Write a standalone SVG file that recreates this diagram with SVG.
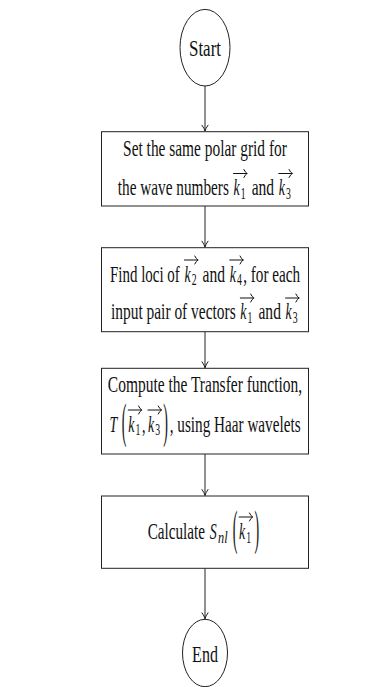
<svg xmlns="http://www.w3.org/2000/svg" width="385" height="687" viewBox="0 0 385 687">
<style>
.t{font-family:"Liberation Serif","Times New Roman",serif;font-size:24px;fill:#111}
.i{font-style:italic}
.s{font-size:16.8px}
.b{fill:#fff;stroke:#222;stroke-width:1}
.v{fill:none;stroke:#111;stroke-width:1;stroke-linecap:round;vector-effect:non-scaling-stroke}
.c{fill:none;stroke:#222;stroke-width:1}
</style>
<defs>
<marker id="ah" viewBox="0 0 10 10" refX="10" refY="5" markerWidth="10" markerHeight="10" markerUnits="userSpaceOnUse" orient="auto">
<path d="M4 2 Q7.5 4.5 10 5 Q7.5 5.5 4 8" fill="none" stroke="#222" stroke-width="1" stroke-linecap="round"/>
</marker>
</defs>
<rect width="385" height="687" fill="#fff"/>
<g id="connectors">
<path class="c" d="M205 86 V131.2" marker-end="url(#ah)"/>
<path class="c" d="M205 206 V247.2" marker-end="url(#ah)"/>
<path class="c" d="M205 331.7 V367.8" marker-end="url(#ah)"/>
<path class="c" d="M205 454 V495.5" marker-end="url(#ah)"/>
<path class="c" d="M205 568.3 V618.8" marker-end="url(#ah)"/>
</g>
<g id="start">
<ellipse class="b" cx="205" cy="47.7" rx="25" ry="38.3"/>
<g transform="translate(205 0) scale(0.6 1) translate(-205 0)">
<text class="t" x="205" y="56" text-anchor="middle" textLength="53.4" lengthAdjust="spacingAndGlyphs">Start</text>
</g>
</g>
<g id="step1">
<rect class="b" x="101.5" y="131.7" width="207" height="74.3"/>
<g transform="translate(205 0) scale(0.58 1) translate(-205 0)">
<text class="t" x="63.8" y="156.5" textLength="282.3" lengthAdjust="spacingAndGlyphs">Set the same polar grid for</text>
<text class="t" x="54.7" y="195.5" textLength="191.5" lengthAdjust="spacingAndGlyphs">the wave numbers</text>
<text class="t i" x="254.2" y="195.5">k</text><text class="t s" x="266.7" y="199.1">1</text>
<text class="t" x="285.5" y="195.5" textLength="38.7" lengthAdjust="spacingAndGlyphs">and</text>
<text class="t i" x="332.2" y="195.5">k</text><text class="t s" x="344.7" y="199.1">3</text>
<path class="v" d="M254.2 173.5 H277.5 M272 169.5 Q274.5 172.5 277.5 173.5 Q274.5 174.5 272 177.5"/>
<path class="v" d="M332.2 173.5 H355.4 M349.9 169.5 Q352.4 172.5 355.4 173.5 Q352.4 174.5 349.9 177.5"/>
</g>
</g>
<g id="step2">
<rect class="b" x="101.5" y="247.7" width="207" height="84"/>
<g transform="translate(205 0) scale(0.58 1) translate(-205 0)">
<text class="t" x="41.2" y="281.7" textLength="120.4" lengthAdjust="spacingAndGlyphs">Find loci of</text>
<text class="t i" x="169.6" y="281.7">k</text><text class="t s" x="182.1" y="285.3">2</text>
<text class="t" x="200.9" y="281.7" textLength="38.7" lengthAdjust="spacingAndGlyphs">and</text>
<text class="t i" x="247.6" y="281.7">k</text><text class="t s" x="260.1" y="285.3">4</text>
<text class="t" x="270.9" y="281.7" textLength="98.1" lengthAdjust="spacingAndGlyphs">, for each</text>
<path class="v" d="M169.6 260 H192.9 M187.4 256 Q189.9 259 192.9 260 Q189.9 261 187.4 264"/>
<path class="v" d="M247.6 260 H270.9 M265.4 256 Q267.9 259 270.9 260 Q267.9 261 265.4 264"/>
<text class="t" x="42.9" y="319.5" textLength="215" lengthAdjust="spacingAndGlyphs">input pair of vectors</text>
<text class="t i" x="265.9" y="319.5">k</text><text class="t s" x="278.4" y="323.1">1</text>
<text class="t" x="297.2" y="319.5" textLength="38.7" lengthAdjust="spacingAndGlyphs">and</text>
<text class="t i" x="343.9" y="319.5">k</text><text class="t s" x="356.4" y="323.1">3</text>
<path class="v" d="M265.9 298 H289.2 M283.7 294 Q286.2 297 289.2 298 Q286.2 299 283.7 302"/>
<path class="v" d="M343.9 298 H367.2 M361.7 294 Q364.2 297 367.2 298 Q364.2 299 361.7 302"/>
</g>
</g>
<g id="step3">
<rect class="b" x="101.5" y="368.3" width="207" height="85.7"/>
<g transform="translate(205 0) scale(0.58 1) translate(-205 0)">
<text class="t" x="37.5" y="392.5" textLength="335" lengthAdjust="spacingAndGlyphs">Compute the Transfer function,</text>
<text class="t i" x="40.3" y="431.7">T</text>
<text class="t" transform="translate(61.4 436.95) scale(1 2.05)">(</text>
<text class="t i" x="72.6" y="431.7">k</text><text class="t s" x="85.1" y="435.3">1</text>
<text class="t" x="96.6" y="431.7">,</text>
<text class="t i" x="106.6" y="431.7">k</text><text class="t s" x="119.1" y="435.3">3</text>
<text class="t" transform="translate(133.1 436.95) scale(1 2.05)">)</text>
<text class="t" x="144.2" y="431.7" textLength="225.6" lengthAdjust="spacingAndGlyphs">, using Haar wavelets</text>
<path class="v" d="M72.6 410 H95.9 M90.4 406 Q92.9 409 95.9 410 Q92.9 411 90.4 414"/>
<path class="v" d="M106.6 410 H129.9 M124.4 406 Q126.9 409 129.9 410 Q126.9 411 124.4 414"/>
</g>
</g>
<g id="step4">
<rect class="b" x="101.5" y="496" width="207" height="72.3"/>
<g transform="translate(205 0) scale(0.58 1) translate(-205 0)">
<text class="t" x="106.3" y="539" textLength="98.7" lengthAdjust="spacingAndGlyphs">Calculate</text>
<text class="t i" x="213" y="539">S</text>
<text class="t i s" x="227.5" y="542.6" textLength="16.5" lengthAdjust="spacingAndGlyphs">nl</text>
<text class="t" transform="translate(252.7 544.25) scale(1 2.05)">(</text>
<text class="t i" x="263.8" y="539">k</text><text class="t s" x="276.3" y="542.6">1</text>
<text class="t" transform="translate(290.3 544.25) scale(1 2.05)">)</text>
<path class="v" d="M263.8 517 H287.1 M281.6 513 Q284.1 516 287.1 517 Q284.1 518 281.6 521"/>
</g>
</g>
<g id="end">
<ellipse class="b" cx="205" cy="653" rx="22.5" ry="33.7"/>
<g transform="translate(205 0) scale(0.6 1) translate(-205 0)">
<text class="t" x="205" y="662" text-anchor="middle" textLength="43" lengthAdjust="spacingAndGlyphs">End</text>
</g>
</g>
</svg>
